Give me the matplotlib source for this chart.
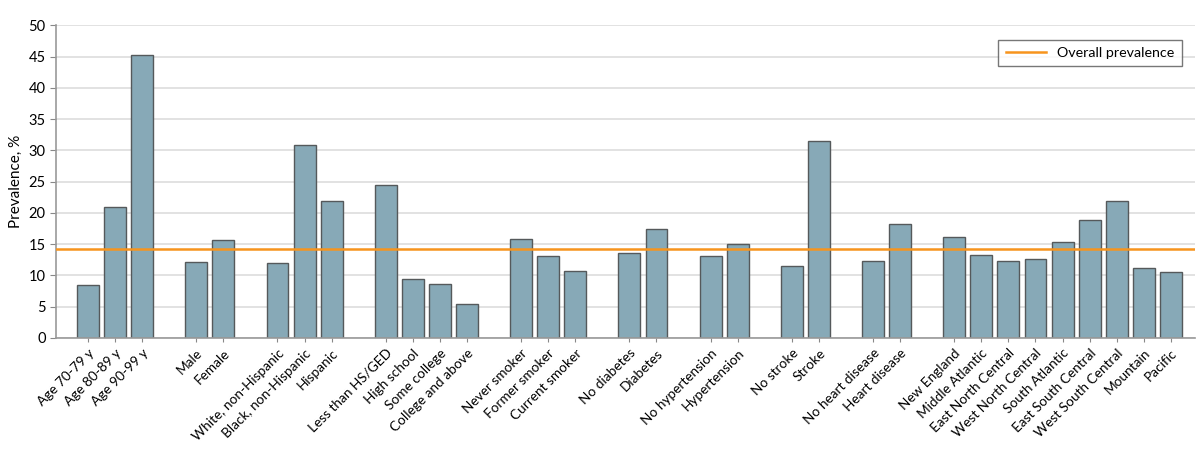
import matplotlib.pyplot as plt
import numpy as np

plt.rcParams['font.family'] = ['Lato', 'DejaVu Sans']

# groups of categories and prevalence (%)
groups = [
    ['Age 70-79 y', 'Age 80-89 y', 'Age 90-99 y'],
    ['Male', 'Female'],
    ['White, non-Hispanic', 'Black, non-Hispanic', 'Hispanic'],
    ['Less than HS/GED', 'High school', 'Some college', 'College and above'],
    ['Never smoker', 'Former smoker', 'Current smoker'],
    ['No diabetes', 'Diabetes'],
    ['No hypertension', 'Hypertension'],
    ['No stroke', 'Stroke'],
    ['No heart disease', 'Heart disease'],
    ['New England', 'Middle Atlantic', 'East North Central', 'West North Central',
     'South Atlantic', 'East South Central', 'West South Central', 'Mountain', 'Pacific'],
]
values = [
    [8.5, 21.0, 45.3],
    [12.1, 15.65],
    [12.0, 30.9, 21.9],
    [24.4, 9.5, 8.6, 5.4],
    [15.9, 13.15, 10.7],
    [13.6, 17.35],
    [13.15, 15.05],
    [11.55, 31.5],
    [12.25, 18.3],
    [16.1, 13.25, 12.35, 12.7, 15.3, 18.85, 21.9, 11.2, 10.5],
]
overall = 14.25

# positions: one empty slot between groups
labels, vals, pos = [], [], []
p = 0
for g, v in zip(groups, values):
    for lab, val in zip(g, v):
        labels.append(lab)
        vals.append(val)
        pos.append(p)
        p += 1
    p += 1

fig = plt.figure(figsize=(12, 4.61), dpi=100)
ax = fig.add_axes([0.0467, 0.267, 0.9493, 0.678])

ax.yaxis.grid(True, color='#e2e2e2', linewidth=1.4, zorder=0)
ax.set_axisbelow(True)
ax.bar(pos, vals, width=0.81, color='#87a9b7', edgecolor='#55595b', linewidth=1.0, zorder=2)
ax.axhline(overall, color='#f7941d', linewidth=1.8, zorder=3, label='Overall prevalence')

ax.set_xlim(-1.18, 40.9)
ax.set_ylim(0, 50)
ax.set_yticks(np.arange(0, 51, 5))
ax.set_xticks(pos)
ax.set_xticklabels(labels, rotation=45, ha='right', rotation_mode='anchor', fontsize=9.8)
ax.tick_params(axis='y', labelsize=10.5, length=4, color='#888888')
ax.tick_params(axis='x', length=3, color='#888888')
ax.set_ylabel('Prevalence, %', fontsize=11)
for s in ['top', 'right']:
    ax.spines[s].set_visible(False)
for s in ['left', 'bottom']:
    ax.spines[s].set_color('#999999')
    ax.spines[s].set_linewidth(1.2)

leg = ax.legend(loc='upper right', bbox_to_anchor=(0.988, 0.953), fontsize=10.3, frameon=True,
                fancybox=False, edgecolor='#555555', handlelength=2.8, handletextpad=0.8,
                borderpad=0.5, borderaxespad=0)
leg.get_frame().set_linewidth(1.0)

fig.savefig('out.png', dpi=100)
